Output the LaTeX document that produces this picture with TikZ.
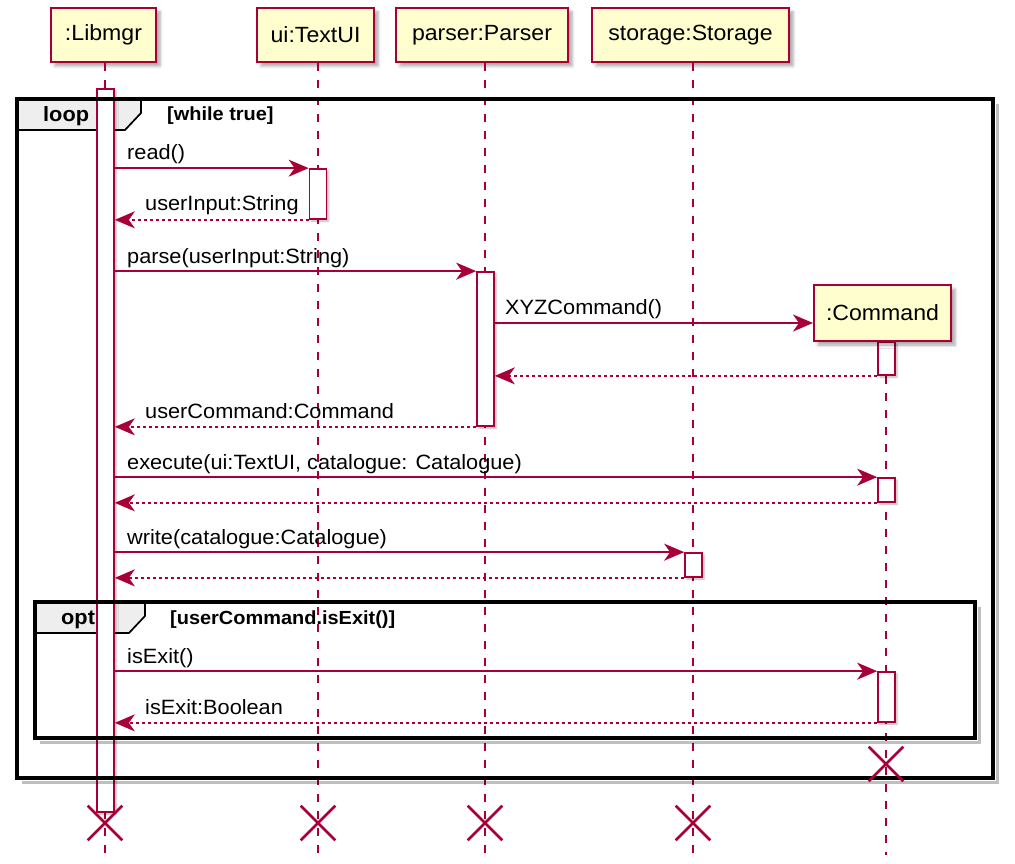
\documentclass[tikz,border=0pt]{standalone}
\usepackage{fontspec}
\setmainfont{Liberation Sans}[FakeStretch=1.05]
\usetikzlibrary{arrows.meta,shadows.blur,shapes.misc}
\definecolor{pred}{HTML}{A80036}
\definecolor{pfill}{HTML}{FEFECE}
\definecolor{lgray}{HTML}{EEEEEE}
\begin{document}
\begin{tikzpicture}[x=1pt,y=-1pt,
  shd/.style={blur shadow={shadow xshift=4pt, shadow yshift=-4pt, shadow blur radius=3pt, shadow opacity=35}},
  part/.style={draw=pred, line width=2pt, fill=pfill, shd, inner sep=0pt, minimum height=54pt, font=\fontsize{22}{25}\selectfont},
  act/.style={draw=pred, line width=1.7pt, fill=white, minimum width=17pt, inner sep=0pt, blur shadow={shadow xshift=2pt, shadow yshift=-2pt, shadow blur radius=2pt, shadow opacity=30}},
  lifeline/.style={draw=pred, line width=1.7pt, dash pattern=on 8pt off 9pt},
  msg/.style={draw=pred, line width=1.8pt, -{Stealth[length=20pt, width=17pt, inset=6pt]}},
  ret/.style={msg, dash pattern=on 3pt off 3pt},
  mlabel/.style={anchor=base west, inner sep=0pt, font=\fontsize{20.7}{23}\selectfont},
  frm/.style={draw=black, line width=3.3pt},
  frmshadow/.style={draw=black, opacity=0.25, line width=3pt},
  tab/.style={draw=black, line width=1.7pt, fill=lgray},
  tabtext/.style={anchor=west, inner sep=0pt, font=\fontsize{20.7}{23}\selectfont\bfseries},
  guard/.style={anchor=west, inner sep=0pt, font=\fontsize{19}{21}\selectfont\bfseries},
  destroy/.style={draw=pred, cross out, line width=2.6pt, minimum width=32pt, minimum height=32pt, inner sep=0pt}
]
\useasboundingbox (0,0) rectangle (1015,864);

% lifeline x positions (bottom ends)
\coordinate (eL) at (105,855);
\coordinate (eT) at (318,855);
\coordinate (eP) at (485,855);
\coordinate (eS) at (693,855);
\coordinate (eC) at (886,855);

% participants
\node[part, minimum width=105pt] (libmgr) at (103.5,35) {:Libmgr};
\node[part, minimum width=117pt] (textui) at (315.5,35) {ui:TextUI};
\node[part, minimum width=172pt] (parser) at (482,35) {parser:Parser};
\node[part, minimum width=197pt] (storage) at (690.5,35) {storage:Storage};

% lifelines
\draw[lifeline] (libmgr.south -| eL) -- (eL);
\draw[lifeline] (textui.south -| eT) -- (eT);
\draw[lifeline] (parser.south -| eP) -- (eP);
\draw[lifeline] (storage.south -| eS) -- (eS);
\coordinate (cmdtop) at (886,342);
\draw[lifeline] (cmdtop) -- (eC);

% frame tabs (fills)
\draw[tab] (17,99) -- (141,99) -- (141,113) -- (125,130) -- (17,130) -- cycle;
\draw[tab] (35,602) -- (145,602) -- (145,616) -- (129,633) -- (35,633) -- cycle;

% activation bars
\node[act, minimum height=723pt] (a1) at (105.5,450.5) {};
\node[act, minimum height=50pt] (t1) at (318,194) {};
\node[act, minimum height=154pt] (p1) at (485.5,349) {};
\node[act, minimum height=33pt] (c1) at (886.5,358.5) {};
\node[act, minimum height=24pt] (c2) at (886.5,490) {};
\node[act, minimum height=24pt] (s1) at (693.5,565) {};
\node[act, minimum height=50pt] (c3) at (886.5,697) {};

% frames
\draw[frmshadow] (997,104) -- (997,782) -- (22,782);
\draw[frm] (17,99) rectangle (993,778);
\draw[frmshadow] (979,607) -- (979,742) -- (40,742);
\draw[frm] (35,602) rectangle (975,738);
\node[tabtext] (looplbl) at (43,116) {loop};
\node[guard] (loopguard) at (167,116) {[while true]};
\node[tabtext] (optlbl) at (61,620) {opt};
\node[guard] (optguard) at (170,620) {[userCommand.isExit()]};

% command participant (created)
\node[part, minimum width=137pt, minimum height=56pt] (cmd) at (882.5,313) {:Command};

% messages
\draw[msg] (a1.east |- t1.north) -- (t1.north west);
\node[mlabel] (m1) at (127,160) {read()};
\draw[ret] (t1.south west) -- (a1.east |- t1.south);
\node[mlabel] (m2) at (145,211) {userInput:String};
\draw[msg] (a1.east |- p1.north) -- (p1.north west);
\node[mlabel] (m3) at (127,263) {parse(userInput:String)};
\coordinate (xyz) at (0,323);
\draw[msg] (p1.east |- xyz) -- (cmd.west |- xyz);
\node[mlabel] (m4) at (505,314) {XYZCommand()};
\draw[ret] (c1.south west) -- (p1.east |- c1.south);
\draw[ret] (p1.south west) -- (a1.east |- p1.south);
\node[mlabel] (m5) at (145,418) {userCommand:Command};
\draw[msg] (a1.east |- c2.north) -- (c2.north west);
\node[mlabel] (m6) at (127,469) {execute(ui:TextUI, catalogue: Catalogue)};
\draw[ret] (c2.south west) -- (a1.east |- c2.south);
\draw[msg] (a1.east |- s1.north) -- (s1.north west);
\node[mlabel] (m7) at (127,544) {write(catalogue:Catalogue)};
\draw[ret] (s1.south west) -- (a1.east |- s1.south);
\draw[msg] (a1.east |- c3.north) -- (c3.north west);
\node[mlabel] (m8) at (127,663) {isExit()};
\draw[ret] (c3.south west) -- (a1.east |- c3.south);
\node[mlabel] (m9) at (145,714) {isExit:Boolean};

% destroy marks
\node[destroy] (xC) at (886,764) {};
\node[destroy] (xL) at (105,823) {};
\node[destroy] (xT) at (318,823) {};
\node[destroy] (xP) at (485,823) {};
\node[destroy] (xS) at (693,823) {};
\end{tikzpicture}
\end{document}
